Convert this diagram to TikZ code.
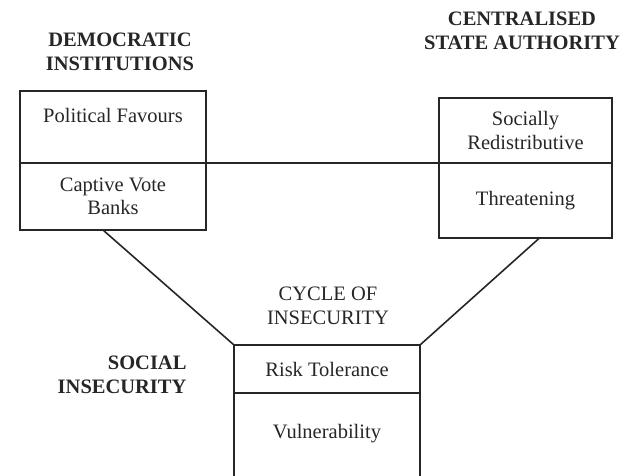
\documentclass[tikz,border=0pt]{standalone}
\usepackage{fontspec}
\setmainfont{Liberation Serif}
\usepackage{tikz}
\usetikzlibrary{positioning}

\begin{document}
\begin{tikzpicture}[x=1pt, y=1pt,
            node distance=0pt,
            every node/.style={font=\fontsize{20.5}{23.5}\selectfont, text=black!85},
            cell/.style={draw=black!85, line width=1.6pt, rectangle, outer sep=0pt, inner sep=2pt, align=center, anchor=north west},
            heading/.style={align=center, font=\bfseries\fontsize{20.5}{24}\selectfont},
            link/.style={draw=black!85, line width=1.6pt}]

            \useasboundingbox (0,0) rectangle (626,476);

            % Left box
            \node (favours) [cell, minimum width=186pt, minimum height=72pt] at (20,385) {Political Favours\\ \mbox{}};
            \node (captive) [cell, minimum width=186pt, minimum height=67pt, below=of favours] {Captive Vote\\Banks};
            \node (demo) [heading] at (120,424) {DEMOCRATIC\\INSTITUTIONS};

            % Right box
            \node (social) [cell, minimum width=173pt, minimum height=65pt] at (439,378) {Socially\\Redistributive};
            \node (threat) [cell, minimum width=173pt, minimum height=75pt, below=of social] {Threatening};
            \node (central) [heading] at (522,445) {CENTRALISED\\STATE AUTHORITY};

            % Bottom box
            \node (risk) [cell, minimum width=186pt, minimum height=48pt] at (234,131) {Risk Tolerance};
            \node (vuln) [cell, minimum width=186pt, minimum height=100pt, below=of risk] {Vulnerability\\ \mbox{}};
            \node (cycle) [align=center] at (328,170) {CYCLE OF\\INSECURITY};
            \node (insec) [heading, align=right, anchor=east] at (190,101) {SOCIAL\\INSECURITY};

            % Connections
            \draw [link] (favours.south west) -- (social.south west);
            \draw [link] ([xshift=-10pt]captive.south) -- (risk.north west);
            \draw [link] ([xshift=14pt]threat.south) -- (risk.north east);
        \end{tikzpicture}
\end{document}
